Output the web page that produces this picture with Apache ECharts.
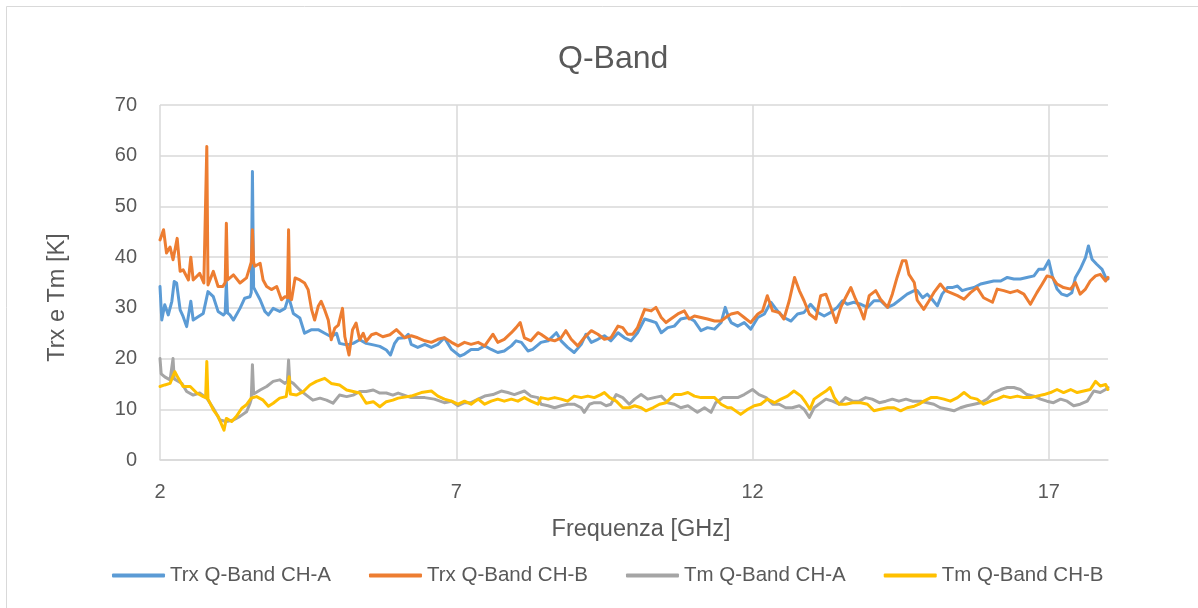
<!DOCTYPE html>
<html>
<head>
<meta charset="utf-8">
<title>Q-Band</title>
<script src="https://cdn.jsdelivr.net/npm/echarts@6/dist/echarts.min.js"></script>
<style>
    html, body { margin: 0; padding: 0; background: #fff; }
    #chart { width: 1198px; height: 608px; }
</style>
</head>
<body>
<div id="chart"></div>
<script>
// nomi delle serie (legenda)
var seriesNames = ['Trx Q-Band CH-A', 'Trx Q-Band CH-B', 'Tm Q-Band CH-A', 'Tm Q-Band CH-B'];

// [frequenza GHz, temperatura K]
var trxChA = [
    [2.00, 34.2], [2.03, 27.6], [2.08, 30.6], [2.14, 28.6], [2.20, 31.3], [2.24, 35.2], [2.28, 34.9], [2.34, 29.6],
    [2.39, 28.3], [2.45, 26.3], [2.52, 31.3], [2.56, 27.6], [2.65, 28.3], [2.73, 28.9], [2.81, 33.2], [2.90, 32.2],
    [2.98, 29.3], [3.07, 28.6], [3.10, 29.0], [3.12, 35.2], [3.14, 29.0], [3.18, 28.6], [3.24, 27.6], [3.35, 29.9],
    [3.43, 31.9], [3.52, 32.2], [3.54, 33.0], [3.56, 56.9], [3.58, 34.0], [3.60, 33.6], [3.69, 31.6], [3.77, 29.3],
    [3.83, 28.6], [3.91, 29.9], [4.02, 29.3], [4.11, 29.9], [4.17, 32.2], [4.25, 28.9], [4.36, 28.0], [4.44, 25.0],
    [4.56, 25.7], [4.67, 25.7], [4.78, 25.0], [4.89, 24.3], [4.98, 25.0], [5.03, 23.0], [5.15, 22.7], [5.26, 23.0],
    [5.37, 23.7], [5.48, 23.0], [5.60, 22.7], [5.71, 22.4], [5.82, 21.7], [5.89, 20.7], [5.96, 23.0], [6.02, 24.0],
    [6.13, 24.1], [6.19, 24.8], [6.24, 22.8], [6.35, 22.2], [6.47, 22.8], [6.58, 22.2], [6.69, 22.8], [6.80, 24.1],
    [6.92, 21.8], [7.06, 20.5], [7.14, 20.9], [7.25, 21.8], [7.37, 21.8], [7.48, 22.5], [7.59, 21.8], [7.70, 21.2],
    [7.81, 21.5], [7.93, 22.5], [8.01, 23.5], [8.10, 23.2], [8.21, 21.5], [8.29, 21.8], [8.43, 23.2], [8.55, 23.5],
    [8.69, 25.1], [8.77, 23.5], [8.88, 22.2], [8.99, 21.2], [9.11, 22.8], [9.19, 24.8], [9.28, 23.2], [9.39, 23.8],
    [9.50, 24.5], [9.61, 23.5], [9.73, 25.1], [9.84, 24.1], [9.95, 23.5], [10.06, 25.1], [10.18, 27.8], [10.29, 27.4],
    [10.37, 27.1], [10.46, 25.1], [10.57, 26.1], [10.68, 26.4], [10.79, 27.8], [10.91, 28.1], [11.02, 27.4], [11.13, 25.5],
    [11.24, 26.1], [11.36, 25.8], [11.47, 27.1], [11.54, 30.1], [11.60, 28.0], [11.64, 27.1], [11.75, 26.4], [11.86, 27.1],
    [11.97, 25.8], [12.09, 28.1], [12.20, 28.8], [12.31, 31.1], [12.42, 29.4], [12.53, 28.1], [12.65, 27.4], [12.76, 28.8],
    [12.87, 29.1], [12.98, 30.7], [13.10, 29.1], [13.21, 28.4], [13.32, 29.1], [13.43, 30.1], [13.52, 31.4], [13.60, 30.7],
    [13.71, 31.1], [13.83, 30.7], [13.94, 30.1], [14.05, 31.4], [14.16, 31.4], [14.28, 30.1], [14.39, 30.7], [14.50, 31.7],
    [14.61, 32.7], [14.73, 33.4], [14.78, 33.4], [14.87, 32.0], [14.95, 32.7], [15.03, 31.7], [15.12, 30.4], [15.20, 32.7],
    [15.29, 34.0], [15.37, 34.0], [15.46, 34.3], [15.54, 33.4], [15.62, 33.7], [15.74, 34.0], [15.85, 34.7], [15.96, 35.0],
    [16.07, 35.3], [16.19, 35.3], [16.30, 36.0], [16.41, 35.7], [16.52, 35.7], [16.63, 36.0], [16.75, 36.3], [16.83, 37.6],
    [16.92, 37.6], [17.00, 39.3], [17.06, 36.3], [17.14, 33.7], [17.22, 32.7], [17.31, 32.4], [17.39, 33.0], [17.45, 36.0],
    [17.53, 37.6], [17.62, 39.9], [17.67, 42.2], [17.73, 39.6], [17.81, 38.6], [17.90, 37.6], [17.96, 36.0], [18.00, 35.7]
];

var trxChB = [
    [2.00, 43.4], [2.06, 45.4], [2.11, 40.8], [2.17, 42.0], [2.22, 39.5], [2.29, 43.7], [2.34, 37.2], [2.39, 37.5],
    [2.48, 35.5], [2.52, 40.0], [2.56, 35.5], [2.67, 36.8], [2.74, 34.9], [2.77, 35.0], [2.79, 61.8], [2.81, 34.5],
    [2.83, 34.2], [2.90, 37.2], [2.98, 34.2], [3.06, 34.2], [3.10, 35.0], [3.12, 46.7], [3.14, 35.5], [3.16, 35.2],
    [3.24, 36.5], [3.35, 34.9], [3.46, 35.9], [3.52, 38.2], [3.54, 39.0], [3.56, 45.4], [3.58, 39.0], [3.60, 38.2],
    [3.69, 38.8], [3.74, 35.5], [3.80, 34.2], [3.88, 33.6], [3.97, 34.2], [4.05, 31.6], [4.11, 32.2], [4.15, 32.0],
    [4.17, 45.4], [4.19, 32.0], [4.22, 31.6], [4.28, 35.9], [4.36, 35.5], [4.44, 34.9], [4.50, 33.6], [4.56, 29.6],
    [4.61, 27.6], [4.67, 30.3], [4.72, 31.3], [4.78, 29.6], [4.84, 27.6], [4.89, 23.7], [4.95, 26.0], [5.01, 26.6],
    [5.08, 29.9], [5.12, 24.3], [5.19, 20.7], [5.25, 25.7], [5.31, 27.0], [5.37, 23.7], [5.43, 25.0], [5.48, 23.4],
    [5.57, 24.7], [5.65, 25.0], [5.76, 24.3], [5.88, 24.7], [5.99, 25.7], [6.13, 24.1], [6.24, 24.5], [6.35, 24.1],
    [6.47, 23.5], [6.58, 23.2], [6.69, 23.8], [6.80, 24.1], [6.92, 23.2], [7.03, 22.5], [7.14, 23.2], [7.25, 22.8],
    [7.37, 23.2], [7.48, 22.5], [7.62, 24.8], [7.70, 23.2], [7.81, 23.8], [7.93, 25.1], [8.01, 26.1], [8.08, 27.1],
    [8.15, 24.1], [8.26, 23.5], [8.38, 25.1], [8.43, 24.8], [8.55, 23.8], [8.66, 23.5], [8.77, 24.1], [8.85, 25.5],
    [8.94, 23.8], [9.05, 22.5], [9.16, 24.1], [9.28, 25.5], [9.39, 24.8], [9.50, 23.8], [9.61, 24.1], [9.73, 26.4],
    [9.81, 26.1], [9.89, 24.8], [9.98, 24.8], [10.06, 26.1], [10.18, 29.7], [10.29, 29.4], [10.37, 30.1], [10.46, 28.1],
    [10.54, 27.1], [10.62, 27.8], [10.74, 28.8], [10.85, 29.4], [10.93, 27.8], [11.02, 28.4], [11.13, 28.1], [11.24, 27.8],
    [11.36, 27.4], [11.47, 27.4], [11.58, 28.4], [11.64, 28.8], [11.75, 29.1], [11.86, 28.1], [11.97, 27.1], [12.09, 28.8],
    [12.17, 29.4], [12.25, 32.4], [12.34, 29.4], [12.45, 29.1], [12.53, 27.8], [12.62, 31.4], [12.71, 36.0], [12.79, 33.4],
    [12.87, 31.4], [12.96, 28.8], [13.07, 27.8], [13.15, 32.4], [13.24, 32.7], [13.32, 30.1], [13.41, 27.1], [13.49, 30.1],
    [13.57, 32.0], [13.66, 34.0], [13.74, 31.7], [13.83, 29.4], [13.88, 27.8], [13.97, 32.4], [14.08, 33.4], [14.16, 31.7],
    [14.28, 30.1], [14.36, 32.7], [14.44, 36.0], [14.53, 39.3], [14.59, 39.3], [14.64, 36.6], [14.73, 35.0], [14.78, 31.5],
    [14.81, 31.4], [14.89, 29.7], [14.98, 31.4], [15.06, 33.0], [15.17, 34.7], [15.26, 33.4], [15.34, 33.0], [15.46, 32.4],
    [15.57, 31.7], [15.68, 33.0], [15.79, 34.0], [15.90, 32.0], [16.05, 31.1], [16.13, 33.7], [16.24, 33.4], [16.35, 33.0],
    [16.47, 33.4], [16.58, 32.7], [16.69, 30.7], [16.80, 33.0], [16.89, 34.7], [16.97, 36.3], [17.06, 36.0], [17.14, 34.7],
    [17.25, 34.0], [17.37, 33.7], [17.45, 35.0], [17.53, 32.7], [17.62, 33.7], [17.70, 35.3], [17.79, 36.3], [17.87, 36.6],
    [17.96, 35.3], [18.00, 36.0]
];

var tmChA = [
    [2.00, 20.0], [2.02, 17.0], [2.08, 16.4], [2.17, 15.8], [2.20, 16.0], [2.22, 20.0], [2.24, 16.0], [2.27, 15.8],
    [2.37, 15.1], [2.45, 13.5], [2.56, 12.8], [2.67, 13.2], [2.79, 12.2], [2.90, 10.2], [3.01, 7.9], [3.12, 7.6],
    [3.24, 7.9], [3.35, 8.6], [3.46, 9.5], [3.52, 11.2], [3.54, 12.0], [3.56, 18.8], [3.58, 13.0], [3.60, 12.8],
    [3.69, 13.8], [3.80, 14.5], [3.91, 15.5], [4.02, 15.8], [4.11, 15.1], [4.15, 15.5], [4.17, 19.7], [4.19, 15.5],
    [4.25, 15.1], [4.36, 13.8], [4.47, 12.8], [4.58, 11.8], [4.70, 12.2], [4.81, 11.8], [4.92, 11.2], [5.03, 12.8],
    [5.15, 12.5], [5.26, 12.8], [5.37, 13.5], [5.48, 13.5], [5.60, 13.8], [5.71, 13.2], [5.82, 13.2], [5.93, 12.8],
    [6.02, 13.2], [6.24, 12.3], [6.47, 12.3], [6.63, 12.0], [6.80, 11.3], [6.92, 11.6], [7.03, 10.7], [7.14, 11.3],
    [7.25, 11.3], [7.37, 12.0], [7.48, 12.6], [7.62, 12.9], [7.76, 13.6], [7.87, 13.3], [7.98, 12.9], [8.15, 13.6],
    [8.26, 12.6], [8.38, 12.3], [8.43, 11.0], [8.55, 10.7], [8.66, 10.3], [8.77, 10.7], [8.88, 11.0], [8.99, 11.0],
    [9.11, 10.3], [9.16, 9.4], [9.25, 11.0], [9.33, 11.3], [9.44, 11.3], [9.53, 10.7], [9.61, 11.0], [9.70, 12.9],
    [9.81, 12.3], [9.92, 11.0], [10.01, 12.0], [10.12, 12.9], [10.23, 12.0], [10.34, 12.3], [10.46, 12.6], [10.57, 11.3],
    [10.68, 11.0], [10.79, 10.3], [10.91, 10.7], [11.07, 9.4], [11.19, 10.3], [11.30, 9.4], [11.38, 11.3], [11.50, 12.3],
    [11.61, 12.3], [11.75, 12.3], [11.86, 12.9], [12.00, 13.9], [12.11, 12.9], [12.23, 12.3], [12.34, 11.0], [12.45, 11.0],
    [12.56, 10.3], [12.67, 10.3], [12.79, 10.7], [12.87, 10.0], [12.96, 8.4], [13.04, 10.3], [13.12, 11.0], [13.24, 12.0],
    [13.35, 11.6], [13.46, 11.0], [13.57, 12.3], [13.69, 11.6], [13.80, 11.6], [13.91, 12.3], [14.02, 12.0], [14.14, 11.3],
    [14.25, 11.6], [14.36, 12.0], [14.47, 11.6], [14.59, 12.0], [14.70, 11.6], [14.84, 11.6], [14.95, 11.3], [15.06, 11.0],
    [15.17, 10.3], [15.29, 10.0], [15.40, 9.7], [15.51, 10.3], [15.62, 10.7], [15.74, 11.0], [15.85, 11.3], [15.96, 12.0],
    [16.07, 13.3], [16.19, 13.9], [16.30, 14.3], [16.41, 14.3], [16.52, 13.9], [16.63, 12.9], [16.75, 12.6], [16.86, 12.0],
    [16.97, 11.6], [17.08, 11.3], [17.20, 12.0], [17.31, 11.6], [17.42, 10.7], [17.53, 11.0], [17.65, 11.6], [17.76, 13.6],
    [17.87, 13.3], [17.96, 13.9], [18.00, 14.3]
];

var tmChB = [
    [2.00, 14.5], [2.08, 14.8], [2.17, 15.1], [2.25, 17.4], [2.31, 16.1], [2.39, 14.5], [2.51, 14.5], [2.62, 13.2],
    [2.73, 12.5], [2.77, 12.3], [2.79, 19.4], [2.81, 12.0], [2.83, 11.8], [2.90, 9.9], [2.98, 8.6], [3.08, 5.9],
    [3.12, 8.2], [3.21, 7.6], [3.29, 8.6], [3.38, 10.2], [3.46, 10.9], [3.54, 12.2], [3.63, 12.5], [3.74, 11.8],
    [3.83, 10.6], [3.91, 11.2], [4.02, 12.2], [4.13, 12.5], [4.16, 12.6], [4.18, 16.4], [4.20, 13.0], [4.22, 12.8],
    [4.30, 12.8], [4.42, 13.5], [4.53, 14.8], [4.64, 15.5], [4.78, 16.1], [4.89, 15.1], [5.03, 14.8], [5.15, 13.8],
    [5.26, 13.5], [5.37, 13.2], [5.48, 11.2], [5.60, 11.5], [5.71, 10.5], [5.82, 11.5], [5.93, 11.8], [6.02, 12.2],
    [6.24, 12.6], [6.41, 13.3], [6.58, 13.6], [6.69, 12.6], [6.80, 12.0], [6.92, 11.6], [7.03, 11.0], [7.14, 11.6],
    [7.25, 11.0], [7.37, 12.0], [7.48, 11.0], [7.59, 11.6], [7.70, 12.0], [7.81, 11.6], [7.93, 12.0], [8.04, 11.6],
    [8.15, 12.3], [8.26, 11.6], [8.38, 11.0], [8.43, 12.3], [8.55, 12.0], [8.66, 12.3], [8.77, 12.0], [8.88, 11.6],
    [8.99, 12.6], [9.11, 12.3], [9.22, 12.6], [9.33, 12.3], [9.44, 12.9], [9.50, 13.3], [9.59, 12.3], [9.70, 11.6],
    [9.81, 10.3], [9.92, 10.3], [10.01, 10.7], [10.12, 10.3], [10.20, 9.7], [10.32, 10.3], [10.43, 11.0], [10.54, 11.3],
    [10.68, 12.9], [10.79, 12.9], [10.91, 13.3], [11.02, 12.6], [11.13, 12.3], [11.24, 12.3], [11.36, 12.3], [11.47, 11.0],
    [11.58, 10.3], [11.64, 10.3], [11.80, 9.0], [11.92, 10.0], [12.03, 10.7], [12.14, 11.0], [12.25, 12.0], [12.37, 11.3],
    [12.48, 12.0], [12.59, 12.6], [12.70, 13.6], [12.82, 12.6], [12.90, 11.3], [12.97, 10.0], [13.04, 12.0], [13.15, 12.9],
    [13.24, 13.6], [13.31, 14.3], [13.38, 12.3], [13.46, 11.0], [13.57, 11.0], [13.69, 11.3], [13.83, 11.3], [13.94, 11.0],
    [14.05, 9.7], [14.16, 10.0], [14.28, 10.3], [14.39, 10.3], [14.50, 9.7], [14.61, 10.3], [14.73, 10.6], [14.81, 11.0],
    [14.89, 11.6], [15.01, 12.3], [15.12, 12.3], [15.23, 12.0], [15.34, 11.6], [15.46, 12.3], [15.57, 13.3], [15.68, 12.3],
    [15.79, 12.0], [15.90, 11.0], [16.02, 11.6], [16.13, 12.0], [16.24, 12.6], [16.35, 12.3], [16.47, 12.6], [16.58, 12.3],
    [16.69, 12.3], [16.80, 12.6], [16.92, 12.9], [17.03, 13.3], [17.14, 13.9], [17.25, 13.3], [17.37, 13.9], [17.48, 13.3],
    [17.59, 13.6], [17.70, 13.9], [17.79, 15.5], [17.87, 14.6], [17.96, 14.9], [18.00, 13.9]
];

var allData = [trxChA, trxChB, tmChA, tmChB];
var colors = ['#5b9bd5', '#ed7d31', '#a5a5a5', '#ffc000'];
var textColor = '#595959';
var gridColor = '#d9d9d9';

var chart = echarts.init(document.getElementById('chart'));

chart.setOption({
    animation: false,
    backgroundColor: '#fff',
    textStyle: { fontFamily: 'Liberation Sans' },
    color: colors,
    graphic: [{
        type: 'rect',
        shape: { x: 6.5, y: 6.5, width: 1200, height: 620 },
        style: { fill: 'none', stroke: gridColor, lineWidth: 1 }
    }],
    title: {
        text: 'Q-Band',
        left: 553,
        top: 38,
        textStyle: { color: textColor, fontSize: 32, fontWeight: 'normal' }
    },
    legend: {
        data: seriesNames,
        left: 107,
        top: 560,
        icon: 'roundRect',
        itemWidth: 53,
        itemHeight: 4,
        itemGap: 38,
        textStyle: { color: textColor, fontSize: 20.5 }
    },
    grid: {
        left: 160,
        right: 90,
        top: 105,
        bottom: 148
    },
    xAxis: {
        type: 'value',
        min: 2,
        max: 18,
        interval: 5,
        name: 'Frequenza [GHz]',
        nameLocation: 'middle',
        nameGap: 58,
        nameTextStyle: { color: textColor, fontSize: 23.5, padding: [0, 0, 0, 14] },
        axisLine: { show: true, lineStyle: { color: gridColor, width: 1.5 } },
        axisTick: { show: false },
        axisLabel: { color: textColor, fontSize: 20, margin: 22, showMaxLabel: false },
        splitLine: { show: true, showMaxLine: false, lineStyle: { color: gridColor, width: 1.5 } }
    },
    yAxis: {
        type: 'value',
        min: 0,
        max: 70,
        interval: 10,
        name: 'Trx e Tm [K]',
        nameLocation: 'middle',
        nameGap: 90,
        nameTextStyle: { color: textColor, fontSize: 23.5, padding: [0, 30, 0, 0] },
        axisLine: { show: false },
        axisTick: { show: false },
        axisLabel: { color: textColor, fontSize: 20, margin: 23 },
        splitLine: { show: true, lineStyle: { color: gridColor, width: 1.5 } }
    },
    series: allData.map(function (d, i) {
        return {
            name: seriesNames[i],
            type: 'line',
            data: d,
            showSymbol: false,
            symbol: 'none',
            lineStyle: { width: 3, color: colors[i], cap: 'round', join: 'round' }
        };
    })
});
</script>
</body>
</html>
